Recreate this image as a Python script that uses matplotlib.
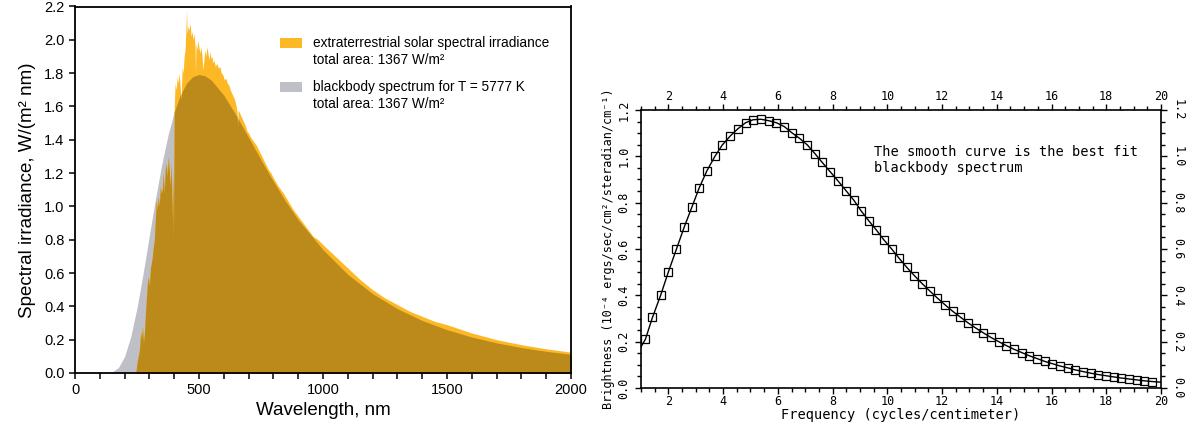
import numpy as np
import matplotlib
matplotlib.use("Agg")
import matplotlib.pyplot as plt
from matplotlib.patches import Rectangle
from matplotlib.ticker import MultipleLocator, FormatStrFormatter

# ---------------- left panel data (wavelength nm, W/(m2 nm)) ----------------
solar_wl = [245, 250, 255, 260, 265, 268, 272, 276, 280, 284, 288, 292, 296, 300, 304,
            308, 312, 316, 320, 324, 328, 332, 336, 340, 344, 348, 352, 356, 360, 364,
            368, 372, 376, 380, 384, 388, 392, 394, 397, 400, 404, 408, 412, 416, 420,
            424, 428, 432, 436, 440, 444, 448, 450, 452, 456, 460, 464, 468, 472, 476,
            480, 484, 486, 488, 492, 496, 500, 504, 508, 512, 516, 520, 524, 528, 532,
            536, 540, 544, 548, 552, 556, 560, 566, 572, 578, 584, 590, 596, 602, 608,
            614, 620, 626, 632, 638, 644, 650, 654, 656, 658, 664, 670, 676, 682, 688,
            694, 700, 710, 720, 730, 740, 750, 760, 770, 780, 790, 800, 820, 840, 860,
            880, 900, 920, 940, 960, 980, 1000, 1050, 1100, 1150, 1200, 1250, 1300, 1350,
            1400, 1450, 1500, 1600, 1700, 1800, 1900, 2000]
solar_irr = [0.00, 0.06, 0.10, 0.14, 0.25, 0.20, 0.28, 0.18, 0.24, 0.36, 0.45, 0.54, 0.58, 0.52, 0.63,
             0.66, 0.70, 0.76, 0.80, 0.92, 1.04, 0.98, 1.06, 1.00, 1.12, 1.08, 1.10, 1.20, 1.08, 1.22,
             1.26, 1.18, 1.30, 1.22, 1.12, 1.26, 0.92, 1.20, 0.80, 1.60, 1.74, 1.70, 1.78, 1.74, 1.80,
             1.72, 1.64, 1.84, 1.80, 1.90, 1.94, 2.10, 2.18, 2.04, 2.08, 2.06, 2.10, 2.02, 2.05, 2.00,
             2.04, 1.96, 1.80, 1.98, 1.94, 2.00, 1.95, 1.92, 1.96, 1.90, 1.82, 1.88, 1.94, 1.90, 1.96,
             1.92, 1.88, 1.93, 1.89, 1.90, 1.86, 1.88, 1.84, 1.86, 1.83, 1.84, 1.80, 1.79, 1.76, 1.77,
             1.74, 1.73, 1.70, 1.68, 1.66, 1.64, 1.60, 1.56, 1.48, 1.58, 1.56, 1.54, 1.52, 1.50, 1.48,
             1.45, 1.44, 1.41, 1.39, 1.37, 1.34, 1.31, 1.28, 1.25, 1.22, 1.20, 1.17, 1.12, 1.08, 1.03,
             0.98, 0.94, 0.90, 0.86, 0.82, 0.80, 0.77, 0.70, 0.63, 0.56, 0.50, 0.45, 0.41, 0.37,
             0.34, 0.31, 0.29, 0.24, 0.20, 0.17, 0.145, 0.125]

bb_wl = [100, 125, 150, 175, 200, 225, 250, 275, 300, 325, 350, 375, 400, 425, 450, 475,
         500, 525, 550, 600, 650, 700, 750, 800, 850, 900, 1000, 1100, 1200, 1300, 1400,
         1500, 1600, 1700, 1800, 1900, 2000]
bb_irr = [0.0, 0.0006, 0.0065, 0.0325, 0.099, 0.219, 0.391, 0.600, 0.827, 1.049, 1.253, 1.427,
          1.566, 1.670, 1.740, 1.779, 1.792, 1.783, 1.757, 1.667, 1.546, 1.414, 1.279, 1.150,
          1.029, 0.920, 0.740, 0.592, 0.476, 0.386, 0.315, 0.260, 0.216, 0.181, 0.153, 0.130, 0.112]

legend_first = ["extraterrestrial solar spectral irradiance", "blackbody spectrum for T = 5777 K"]
legend_second = ["total area: 1367 W/m\u00b2", "total area: 1367 W/m\u00b2"]

# ---------------- right panel data (cm^-1, 1e-4 ergs/s/cm2/sr/cm^-1) ----------------
cmb_freq = [1.16, 1.42, 1.72, 2.00, 2.29, 2.58, 2.86, 3.13, 3.41, 3.70, 3.97, 4.27, 4.54,
            4.82, 5.10, 5.38, 5.66, 5.95, 6.24, 6.51, 6.79, 7.08, 7.36, 7.62, 7.91, 8.19,
            8.49, 8.78, 9.04, 9.32, 9.60, 9.87, 10.16, 10.43, 10.71, 10.99, 11.27, 11.55,
            11.83, 12.11, 12.39, 12.67, 12.95, 13.23, 13.51, 13.79, 14.07, 14.35, 14.63,
            14.91, 15.19, 15.47, 15.75, 16.03, 16.31, 16.59, 16.87, 17.15, 17.43, 17.71,
            17.99, 18.27, 18.55, 18.83, 19.11, 19.39, 19.67]
cmb_bright = [0.210, 0.305, 0.401, 0.501, 0.598, 0.695, 0.781, 0.865, 0.938, 1.000, 1.049,
              1.089, 1.119, 1.145, 1.158, 1.160, 1.154, 1.145, 1.128, 1.102, 1.078, 1.049,
              1.011, 0.974, 0.934, 0.895, 0.852, 0.810, 0.765, 0.722, 0.682, 0.640, 0.600,
              0.560, 0.521, 0.485, 0.451, 0.419, 0.388, 0.359, 0.331, 0.306, 0.281, 0.259,
              0.238, 0.218, 0.200, 0.183, 0.167, 0.153, 0.139, 0.127, 0.115, 0.105, 0.095,
              0.087, 0.078, 0.071, 0.064, 0.058, 0.053, 0.048, 0.043, 0.039, 0.035, 0.031,
              0.028]
fit_start = (1.0, 0.178)
fit_end = (20.0, 0.025)

ORANGE = "#FDB825"
GRAY = "#BEBFC7"
BROWN = "#BC8A1A"
SANS = "Liberation Sans"
MONO = "DejaVu Sans Mono"

W, H = 1194, 432
fig = plt.figure(figsize=(W / 100, H / 100), dpi=100)

# ======================= left panel =======================
ax = fig.add_axes([75 / W, 1 - 373 / H, (571 - 75) / W, (373 - 6.5) / H])
grid = np.union1d(np.array(solar_wl, float), np.array(bb_wl, float))
grid = np.union1d(grid, np.linspace(100, 2000, 400))
s = np.interp(grid, solar_wl, solar_irr, left=0.0, right=solar_irr[-1])
b = np.interp(grid, bb_wl, bb_irr)
ax.fill_between(grid, 0, b, color=GRAY, lw=0)
ax.fill_between(grid, 0, s, color=ORANGE, lw=0)
ax.fill_between(grid, 0, np.minimum(s, b), color=BROWN, lw=0)
ax.set_xlim(0, 2000)
ax.set_ylim(0, 2.2)
ax.xaxis.set_major_locator(MultipleLocator(500))
ax.xaxis.set_minor_locator(MultipleLocator(100))
ax.yaxis.set_major_locator(MultipleLocator(0.2))
ax.yaxis.set_major_formatter(FormatStrFormatter("%.1f"))
for sp in ax.spines.values():
    sp.set_linewidth(1.3)
ax.tick_params(which="both", direction="out", length=4, width=1.1, labelsize=10.5,
               top=False, right=False)
for t in ax.get_xticklabels() + ax.get_yticklabels():
    t.set_fontfamily(SANS)
ax.set_xlabel("Wavelength, nm", fontsize=13.5, family=SANS, labelpad=3)
ax.set_ylabel("Spectral irradiance, W/(m\u00b2 nm)", fontsize=13.5, family=SANS, labelpad=6)

# legend drawn as patches + text (axes-fraction placement)
def ax_frac(px, py):
    return ((px - 75) / 496.0, (373 - py) / 366.5)

for i, col in enumerate([ORANGE, GRAY]):
    y0 = 43 + 44 * i
    x_a, y_a = ax_frac(280, y0 + 5)
    x_b, y_b = ax_frac(302, y0 - 5)
    ax.add_patch(Rectangle((x_a, y_a), x_b - x_a, y_b - y_a, transform=ax.transAxes,
                           facecolor=col, edgecolor="none", clip_on=False))
    tx, ty = ax_frac(313, y0)
    ax.text(tx, ty, legend_first[i], transform=ax.transAxes, family=SANS, fontsize=9.8,
            va="center", ha="left")
    tx, ty = ax_frac(313, y0 + 17)
    ax.text(tx, ty, legend_second[i], transform=ax.transAxes, family=SANS, fontsize=9.8,
            va="center", ha="left")

# ======================= right panel =======================
ax2 = fig.add_axes([641 / W, 1 - 388 / H, (1161 - 641) / W, (388 - 110) / H])
cf = [fit_start[0]] + cmb_freq + [fit_end[0]]
cb = [fit_start[1]] + cmb_bright + [fit_end[1]]
ax2.plot(cf, cb, color="black", lw=1.0)
ax2.plot(cmb_freq, cmb_bright, ls="none", marker="s", ms=5.2, mfc="none", mec="black", mew=0.9)
ax2.set_xlim(1, 20)
ax2.set_ylim(0, 1.2)
ax2.xaxis.set_major_locator(MultipleLocator(2))
ax2.xaxis.set_minor_locator(MultipleLocator(0.5))
ax2.yaxis.set_major_locator(MultipleLocator(0.2))
ax2.yaxis.set_minor_locator(MultipleLocator(0.05))
ax2.yaxis.set_major_formatter(FormatStrFormatter("%.1f"))
for sp in ax2.spines.values():
    sp.set_linewidth(1.2)
ax2.tick_params(which="both", direction="out", top=True, right=True, labeltop=True,
                labelright=True, labelsize=8.5, width=1.0)
ax2.tick_params(which="major", length=4.5)
ax2.tick_params(which="minor", length=3)
ax2.tick_params(axis="x", pad=0.5)
ax2.tick_params(axis="y", pad=3)
for t in ax2.xaxis.get_major_ticks():
    t.label1.set_fontfamily(MONO)
    t.label2.set_fontfamily(MONO)
for t in ax2.yaxis.get_major_ticks():
    t.label1.set_fontfamily(MONO)
    t.label2.set_fontfamily(MONO)
    t.label1.set_rotation(90)
    t.label1.set_va("center")
    t.label2.set_rotation(270)
    t.label2.set_va("center")
ax2.set_xlabel("Frequency (cycles/centimeter)", family=MONO, fontsize=9.8, labelpad=0)
ax2.set_ylabel("Brightness (10\u207b\u2074 ergs/sec/cm\u00b2/steradian/cm\u207b\u00b9)",
               family=MONO, fontsize=8.6, labelpad=2)
ax2.text(9.52, 0.985, "The smooth curve is the best fit\nblackbody spectrum", family=MONO,
         fontsize=9.8, va="center", ha="left", linespacing=1.15)

fig.savefig("out.png", dpi=100)
